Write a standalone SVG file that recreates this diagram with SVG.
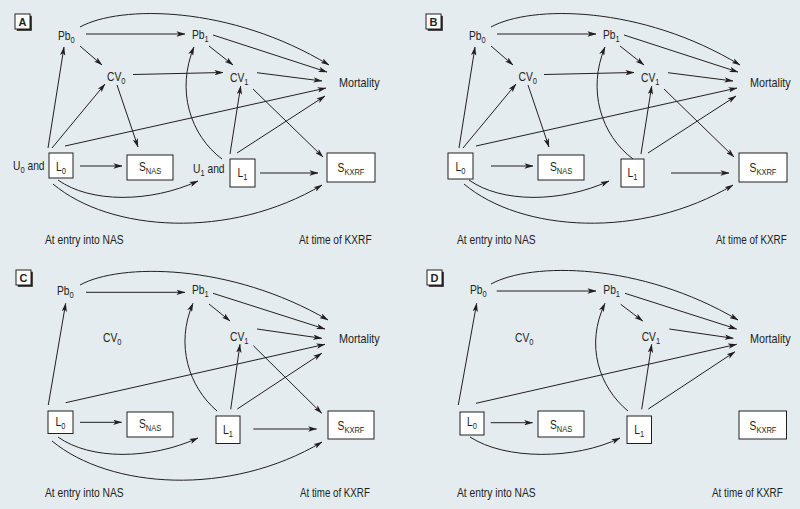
<svg xmlns="http://www.w3.org/2000/svg" width="800" height="509" viewBox="0 0 800 509">
<defs>
<style>
.t{font-family:"Liberation Sans",Arial,sans-serif;font-size:13px;fill:#231f20}
.s{font-size:9.5px}
.lb{font-family:"Liberation Sans",Arial,sans-serif;font-size:11px;font-weight:bold;fill:#231f20;text-anchor:middle}
.m{text-anchor:middle}
.c{fill:none;stroke:#231f20;stroke-width:1;marker-end:url(#ah)}
.box{fill:#fff;stroke:#231f20;stroke-width:1}
.sh{fill:#231f20}
</style>
<marker id="ah" viewBox="0 0 10 6" refX="9.5" refY="3" markerWidth="9" markerHeight="5.4" markerUnits="userSpaceOnUse" orient="auto"><path d="M0,0 L10,3 L0,6 L2.5,3 z" fill="#231f20"/></marker>
</defs>
<rect x="0" y="0" width="800" height="509" fill="#e4ecef"/>

<!-- Panel A -->
<g id="panelA">
<g id="A-label"><rect class="sh" x="16.8" y="15.8" width="15" height="15"/><rect class="box" x="15" y="14" width="15" height="15"/><text class="lb" x="22.5" y="25.5">A</text></g>
<g id="A-Pb0"><text class="t" transform="translate(58 39.5) scale(.79 1)">Pb<tspan class="s" dy="3">0</tspan></text></g>
<g id="A-CV0"><text class="t" transform="translate(107 80.5) scale(.79 1)">CV<tspan class="s" dy="3">0</tspan></text></g>
<g id="A-Pb1"><text class="t" transform="translate(192 39) scale(.79 1)">Pb<tspan class="s" dy="3">1</tspan></text></g>
<g id="A-CV1"><text class="t" transform="translate(230 82) scale(.79 1)">CV<tspan class="s" dy="3">1</tspan></text></g>
<g id="A-Mortality"><text class="t" transform="translate(339 87) scale(.83 1)">Mortality</text></g>
<g id="A-U0"><text class="t" transform="translate(13 169.5) scale(.79 1)">U<tspan class="s" dy="3">0</tspan><tspan dy="-3"> and</tspan></text></g>
<g id="A-L0"><rect class="box" x="49" y="153" width="24" height="25"/><text class="t m" transform="translate(61 170.5) scale(.79 1)">L<tspan class="s" dy="3">0</tspan></text></g>
<g id="A-SNAS"><rect class="box" x="127" y="155" width="46" height="25"/><text class="t m" transform="translate(150 171) scale(.79 1)">S<tspan class="s" dy="3">NAS</tspan></text></g>
<g id="A-U1"><text class="t" transform="translate(193 173) scale(.79 1)">U<tspan class="s" dy="3">1</tspan><tspan dy="-3"> and</tspan></text></g>
<g id="A-L1"><rect class="box" x="230" y="159" width="25" height="28"/><text class="t m" transform="translate(242.5 177) scale(.79 1)">L<tspan class="s" dy="3">1</tspan></text></g>
<g id="A-SKXRF"><rect class="box" x="327" y="153" width="48" height="29"/><text class="t m" transform="translate(351 172) scale(.79 1)">S<tspan class="s" dy="3">KXRF</tspan></text></g>
<g id="A-entry"><text class="t" transform="translate(45 244) scale(.79 1)">At entry into NAS</text></g>
<g id="A-time"><text class="t" transform="translate(299 244) scale(.78 1)">At time of KXRF</text></g>
</g>

<!-- Panel B -->
<g id="panelB">
<g id="B-label"><rect class="sh" x="427.8" y="15.8" width="15" height="15"/><rect class="box" x="426" y="14" width="15" height="15"/><text class="lb" x="433.5" y="25.5">B</text></g>
<g id="B-Pb0"><text class="t" transform="translate(469 39.5) scale(.79 1)">Pb<tspan class="s" dy="3">0</tspan></text></g>
<g id="B-CV0"><text class="t" transform="translate(518.5 80.5) scale(.79 1)">CV<tspan class="s" dy="3">0</tspan></text></g>
<g id="B-Pb1"><text class="t" transform="translate(603 39) scale(.79 1)">Pb<tspan class="s" dy="3">1</tspan></text></g>
<g id="B-CV1"><text class="t" transform="translate(641 82) scale(.79 1)">CV<tspan class="s" dy="3">1</tspan></text></g>
<g id="B-Mortality"><text class="t" transform="translate(750 87) scale(.83 1)">Mortality</text></g>
<g id="B-L0"><rect class="box" x="448" y="153" width="25" height="26"/><text class="t m" transform="translate(460.5 170.5) scale(.79 1)">L<tspan class="s" dy="3">0</tspan></text></g>
<g id="B-SNAS"><rect class="box" x="538" y="155" width="46" height="25"/><text class="t m" transform="translate(561 171) scale(.79 1)">S<tspan class="s" dy="3">NAS</tspan></text></g>
<g id="B-L1"><rect class="box" x="621" y="159" width="23" height="28"/><text class="t m" transform="translate(632.5 177) scale(.79 1)">L<tspan class="s" dy="3">1</tspan></text></g>
<g id="B-SKXRF"><rect class="box" x="739" y="153" width="48" height="29"/><text class="t m" transform="translate(763 172) scale(.79 1)">S<tspan class="s" dy="3">KXRF</tspan></text></g>
<g id="B-entry"><text class="t" transform="translate(457 244) scale(.79 1)">At entry into NAS</text></g>
<g id="B-time"><text class="t" transform="translate(716 244) scale(.76 1)">At time of KXRF</text></g>
</g>

<!-- Panel C -->
<g id="panelC">
<g id="C-label"><rect class="sh" x="17.8" y="271.8" width="15" height="15"/><rect class="box" x="16" y="270" width="15" height="15"/><text class="lb" x="23.5" y="281.5">C</text></g>
<g id="C-Pb0"><text class="t" transform="translate(57 294.5) scale(.79 1)">Pb<tspan class="s" dy="3">0</tspan></text></g>
<g id="C-CV0"><text class="t" transform="translate(103 342) scale(.79 1)">CV<tspan class="s" dy="3">0</tspan></text></g>
<g id="C-Pb1"><text class="t" transform="translate(192 294.3) scale(.79 1)">Pb<tspan class="s" dy="3">1</tspan></text></g>
<g id="C-CV1"><text class="t" transform="translate(230 340.7) scale(.79 1)">CV<tspan class="s" dy="3">1</tspan></text></g>
<g id="C-Mortality"><text class="t" transform="translate(339 343.3) scale(.83 1)">Mortality</text></g>
<g id="C-L0"><rect class="box" x="48" y="411" width="25" height="22.5"/><text class="t m" transform="translate(60.5 426) scale(.79 1)">L<tspan class="s" dy="3">0</tspan></text></g>
<g id="C-SNAS"><rect class="box" x="127" y="412" width="46" height="25"/><text class="t m" transform="translate(150 428) scale(.79 1)">S<tspan class="s" dy="3">NAS</tspan></text></g>
<g id="C-L1"><rect class="box" x="216" y="416" width="24" height="27.5"/><text class="t m" transform="translate(228 433.5) scale(.79 1)">L<tspan class="s" dy="3">1</tspan></text></g>
<g id="C-SKXRF"><rect class="box" x="328" y="411" width="46" height="28"/><text class="t m" transform="translate(351 429.5) scale(.79 1)">S<tspan class="s" dy="3">KXRF</tspan></text></g>
<g id="C-entry"><text class="t" transform="translate(45 496.5) scale(.79 1)">At entry into NAS</text></g>
<g id="C-time"><text class="t" transform="translate(300 496.5) scale(.75 1)">At time of KXRF</text></g>
</g>

<!-- Panel D -->
<g id="panelD">
<g id="D-label"><rect class="sh" x="428.8" y="271.8" width="15" height="15"/><rect class="box" x="427" y="270" width="15" height="15"/><text class="lb" x="434.5" y="281.5">D</text></g>
<g id="D-Pb0"><text class="t" transform="translate(470 294.3) scale(.79 1)">Pb<tspan class="s" dy="3">0</tspan></text></g>
<g id="D-CV0"><text class="t" transform="translate(515 341.7) scale(.79 1)">CV<tspan class="s" dy="3">0</tspan></text></g>
<g id="D-Pb1"><text class="t" transform="translate(603.3 294) scale(.79 1)">Pb<tspan class="s" dy="3">1</tspan></text></g>
<g id="D-CV1"><text class="t" transform="translate(641.7 341) scale(.79 1)">CV<tspan class="s" dy="3">1</tspan></text></g>
<g id="D-Mortality"><text class="t" transform="translate(750 343.3) scale(.83 1)">Mortality</text></g>
<g id="D-L0"><rect class="box" x="460" y="412" width="24" height="23"/><text class="t m" transform="translate(472 426) scale(.79 1)">L<tspan class="s" dy="3">0</tspan></text></g>
<g id="D-SNAS"><rect class="box" x="538" y="411" width="46" height="26"/><text class="t m" transform="translate(561 428.5) scale(.79 1)">S<tspan class="s" dy="3">NAS</tspan></text></g>
<g id="D-L1"><rect class="box" x="627" y="416" width="24.5" height="27.5"/><text class="t m" transform="translate(639.3 433.5) scale(.79 1)">L<tspan class="s" dy="3">1</tspan></text></g>
<g id="D-SKXRF"><rect class="box" x="739" y="411" width="47.5" height="28"/><text class="t m" transform="translate(763 429.5) scale(.79 1)">S<tspan class="s" dy="3">KXRF</tspan></text></g>
<g id="D-entry"><text class="t" transform="translate(457 496.5) scale(.79 1)">At entry into NAS</text></g>
<g id="D-time"><text class="t" transform="translate(712 496.5) scale(.76 1)">At time of KXRF</text></g>
</g>

<g id="connectors">
<g id="conn-A">
<path class="c" d="M86,34 L185,34"/>
<path class="c" d="M80,46 L102,65"/>
<path class="c" d="M133,74.5 L223,72.5"/>
<path class="c" d="M209,46 L233,65"/>
<path class="c" d="M213,35 L327,72"/>
<path class="c" d="M257,72.7 L322,81"/>
<path class="c" d="M80,27 C120,5 230,5 329,65"/>
<path class="c" d="M65,146 L326,88"/>
<path class="c" d="M237,153 L325,96"/>
<path class="c" d="M230,154 L240.7,86"/>
<path class="c" d="M222,159 C190,135 176,90 194,47"/>
<path class="c" d="M253,89 L323,157"/>
<path class="c" d="M48,148 L64,47"/>
<path class="c" d="M52,148 L105,84"/>
<path class="c" d="M117,85 L138,147"/>
<path class="c" d="M80,166 L122,166"/>
<path class="c" d="M260,173 L318,173"/>
<path class="c" d="M58,180 C90,203 150,203 198,181"/>
<path class="c" d="M53,184 C110,232 230,240 322,185"/>
</g>
<g id="conn-B" transform="translate(411 0)">
<path class="c" d="M86,34 L185,34"/>
<path class="c" d="M80,46 L102,65"/>
<path class="c" d="M133,74.5 L223,72.5"/>
<path class="c" d="M209,46 L233,65"/>
<path class="c" d="M213,35 L327,72"/>
<path class="c" d="M257,72.7 L322,81"/>
<path class="c" d="M80,27 C120,5 230,5 329,65"/>
<path class="c" d="M65,146 L326,88"/>
<path class="c" d="M237,153 L325,96"/>
<path class="c" d="M230,154 L240.7,86"/>
<path class="c" d="M222,159 C190,135 176,90 194,47"/>
<path class="c" d="M253,89 L323,157"/>
<path class="c" d="M48,148 L64,47"/>
<path class="c" d="M52,148 L105,84"/>
<path class="c" d="M117,85 L138,147"/>
<path class="c" d="M80,166 L122,166"/>
<path class="c" d="M260,173 L318,173"/>
<path class="c" d="M58,180 C90,203 150,203 198,181"/>
<path class="c" d="M53,184 C110,232 230,240 322,185"/>
</g>
<g id="conn-C">
<path class="c" d="M86,292.3 L185,292.3"/>
<path class="c" d="M80,285 C120,263 230,263 328,320"/>
<path class="c" d="M213,293.3 L325,329"/>
<path class="c" d="M209,304 L230,321"/>
<path class="c" d="M257,329 L321.7,338.3"/>
<path class="c" d="M48.3,405 L65.7,303.3"/>
<path class="c" d="M65.7,402.7 L325,344.3"/>
<path class="c" d="M80,422.3 L121.7,422.3"/>
<path class="c" d="M217,411 C189,387 175,345 193,303.3"/>
<path class="c" d="M230.7,409.3 L240,344.3"/>
<path class="c" d="M237.3,409 L321.7,353.3"/>
<path class="c" d="M253.3,345.7 L321.7,413.3"/>
<path class="c" d="M253.3,429 L316.7,429"/>
<path class="c" d="M58,437 C90,460 150,460 198,438"/>
<path class="c" d="M52,441 C110,489 230,497 322,442"/>
</g>
<g id="conn-D">
<path class="c" d="M496.7,291 L596,291"/>
<path class="c" d="M491,284 C531,262 640,262 738,320"/>
<path class="c" d="M625,293.3 L736.7,329"/>
<path class="c" d="M620.7,304.3 L642.7,321"/>
<path class="c" d="M669.3,329 L733.3,338.3"/>
<path class="c" d="M458.3,405 L476.7,303.3"/>
<path class="c" d="M476,403.3 L736.7,344.3"/>
<path class="c" d="M490.7,422.7 L532.7,422.7"/>
<path class="c" d="M628,411 C599,387 585,345 605,303.3"/>
<path class="c" d="M641.7,409.3 L651.7,344.3"/>
<path class="c" d="M648.3,409 L735,351.7"/>
<path class="c" d="M470,437 C505,460 575,460 620,438"/>
</g>
</g>
</svg>
